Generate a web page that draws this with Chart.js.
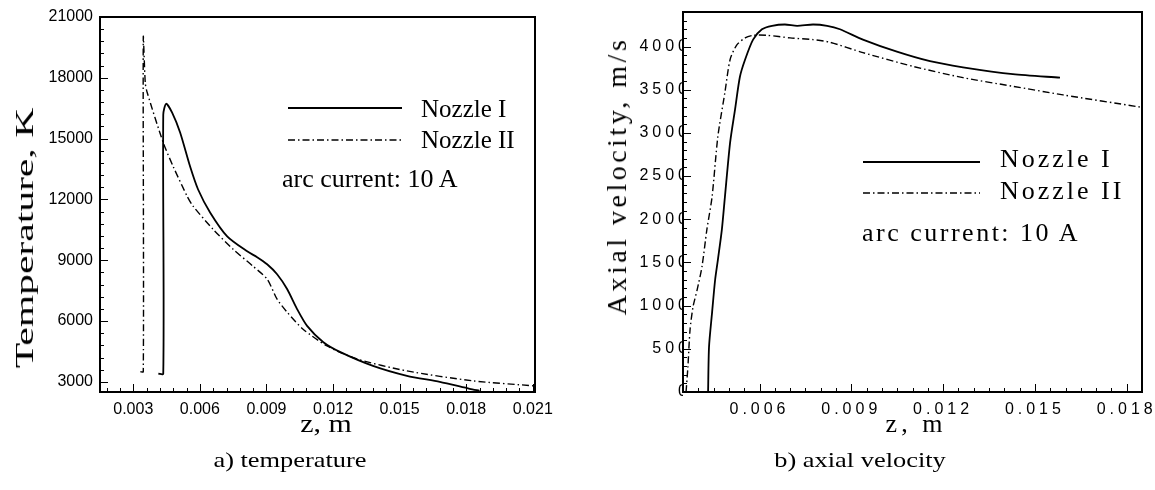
<!DOCTYPE html>
<html>
<head>
<meta charset="utf-8">
<script src="https://cdn.jsdelivr.net/npm/chart.js@4.4.1/dist/chart.umd.min.js"></script>
<style>
    html, body { margin: 0; padding: 0; background: #fff; }
    body { width: 1155px; height: 490px; position: relative; overflow: hidden; }
    canvas { position: absolute; top: 0; }
    .txt { position: absolute; white-space: nowrap; line-height: 1; color: #000;
           font-family: "Liberation Serif", "Times New Roman", serif; }
</style>
</head>
<body>
<canvas id="chartT" width="560" height="450" style="left:0px"></canvas>
<canvas id="chartV" width="585" height="450" style="left:570px"></canvas>
<script>
window.onload = Main;

const seriesNames = ["Nozzle I", "Nozzle II"];
const noteText = "arc current: 10 A";

// a) temperature
const zTemp1 = [0.00413, 0.00435, 0.00435, 0.00448, 0.00475, 0.00511, 0.00556, 0.00592, 0.00646, 0.00723,
                0.00813, 0.00858, 0.00903, 0.00948, 0.00993, 0.01038, 0.01083, 0.01155, 0.01231, 0.0138,
                0.01533, 0.01681, 0.01816, 0.0186];
const temp1  = [3400, 3400, 16180, 16720, 16280, 15300, 13620, 12490, 11360, 10180,
                9440, 9150, 8800, 8310, 7580, 6590, 5760, 4970, 4480, 3790,
                3300, 3000, 2660, 2560];
const zTemp2 = [0.00332, 0.00345, 0.00345, 0.00354, 0.00363, 0.00435, 0.0048, 0.00543, 0.0057, 0.0066,
                0.0075, 0.0084, 0.00903, 0.00948, 0.00993, 0.01065, 0.01173, 0.01308, 0.01533, 0.0183,
                0.0211];
const temp2  = [3500, 3500, 20000, 17750, 17260, 14800, 13620, 12150, 11660, 10520,
                9540, 8700, 8070, 7080, 6440, 5600, 4770, 4130, 3540, 3050,
                2800];

// b) axial velocity
const zVel1 = [0.00432, 0.00435, 0.00445, 0.00455, 0.00464, 0.00477, 0.00487, 0.00504, 0.0052, 0.00536,
               0.00553, 0.00579, 0.00608, 0.00641, 0.00683, 0.00723, 0.00775, 0.00821, 0.00863, 0.00938,
               0.01049, 0.01157, 0.01265, 0.01428, 0.01582];
const vel1  = [0, 520, 920, 1300, 1530, 1880, 2260, 2890, 3270, 3650,
               3850, 4080, 4200, 4240, 4255, 4240, 4255, 4240, 4200, 4080,
               3940, 3830, 3760, 3680, 3640];
const zVel2 = [0.0036, 0.00366, 0.00373, 0.00383, 0.00396, 0.00412, 0.00428, 0.00445, 0.00464, 0.00487,
               0.00504, 0.00526, 0.00553, 0.00579, 0.00625, 0.0070, 0.00775, 0.0083, 0.00938, 0.01102,
               0.01265, 0.01428, 0.01592, 0.01843];
const vel2  = [0, 290, 720, 990, 1180, 1450, 1880, 2260, 2960, 3470,
               3850, 4020, 4100, 4130, 4130, 4100, 4080, 4050, 3930, 3770,
               3640, 3540, 3440, 3300];

// tick labels
const zTicksTemp = [0.003, 0.006, 0.009, 0.012, 0.015, 0.018, 0.021];
const tempTicks  = [3000, 6000, 9000, 12000, 15000, 18000, 21000];
const zTicksVel  = [0.006, 0.009, 0.012, 0.015, 0.018];
const velTicks   = [0, 500, 1000, 1500, 2000, 2500, 3000, 3500, 4000];

const dashDot = [7, 3, 1.5, 3];

// inward tecplot-style ticks, frame and legend samples
const framePlugin = {
    id: "frame",
    beforeDraw(chart, args, opts) {
        chart.ctx.letterSpacing = opts.letterSpacing || "0px";
    },
    afterDraw(chart, args, opts) {
        const ctx = chart.ctx;
        const a = chart.chartArea;
        ctx.save();
        ctx.strokeStyle = "#000";
        ctx.lineWidth = 1;
        ctx.setLineDash([]);
        [["x", opts.xMinor], ["y", opts.yMinor]].forEach(([id, sub]) => {
            const s = chart.scales[id];
            const majors = s.ticks.map(t => t.value);
            const step = (majors[1] - majors[0]) / sub;
            const kMin = Math.ceil((s.min - majors[0]) / step - 1e-6);
            const kMax = Math.floor((s.max - majors[0]) / step + 1e-6);
            ctx.beginPath();
            for (let k = kMin; k <= kMax; k++) {
                const len = (k % sub === 0) ? 8 : 4;
                const p = Math.round(s.getPixelForValue(majors[0] + k * step)) + 0.5;
                if (id === "x") {
                    ctx.moveTo(p, a.bottom);
                    ctx.lineTo(p, a.bottom - len);
                } else {
                    ctx.moveTo(a.left, p);
                    ctx.lineTo(a.left + len, p);
                }
            }
            ctx.stroke();
        });
        ctx.lineWidth = 2;
        ctx.strokeRect(a.left, a.top, a.right - a.left, a.bottom - a.top);

        chart.data.datasets.forEach((ds, i) => {
            const smp = opts.samples[i];
            ctx.lineWidth = ds.borderWidth;
            ctx.setLineDash(ds.borderDash || []);
            ctx.beginPath();
            ctx.moveTo(smp.x1, smp.y);
            ctx.lineTo(smp.x2, smp.y);
            ctx.stroke();
        });
        ctx.restore();
    }
};

function makeChart(id, c) {
    const tickFont = { family: "'Liberation Sans', Arial, sans-serif", size: c.tickSize };
    return new Chart(document.getElementById(id), {
        type: "scatter",
        data: {
            datasets: c.series.map((s, i) => ({
                label: seriesNames[i],
                data: s.z.map((z, j) => ({ x: z, y: s.v[j] })),
                showLine: true,
                pointRadius: 0,
                borderColor: "#000",
                borderWidth: i ? 1.4 : 1.8,
                borderDash: i ? dashDot : [],
                tension: 0.25
            }))
        },
        options: {
            responsive: false,
            animation: false,
            events: [],
            layout: { padding: c.padding },
            plugins: {
                legend: { display: false },
                tooltip: { enabled: false },
                frame: { samples: c.samples, xMinor: c.xMinor, yMinor: c.yMinor, letterSpacing: c.spacing }
            },
            scales: {
                x: {
                    type: "linear", min: c.xMin, max: c.xMax,
                    grid: { display: false, drawTicks: false },
                    border: { display: false },
                    ticks: { font: tickFont, color: "#000", padding: 8, maxRotation: 0, autoSkip: false,
                             callback: v => v.toFixed(3) },
                    afterBuildTicks: s => { s.ticks = c.xTicks.map(v => ({ value: v })); },
                    afterFit: s => { s.height = c.xHeight; s.paddingLeft = 0; s.paddingRight = 0; }
                },
                y: {
                    type: "linear", min: c.yMin, max: c.yMax,
                    grid: { display: false, drawTicks: false },
                    border: { display: false },
                    ticks: { font: tickFont, color: "#000", padding: c.yPad, autoSkip: false,
                             callback: v => String(v) },
                    afterBuildTicks: s => { s.ticks = c.yTicks.map(v => ({ value: v })); },
                    afterFit: s => { s.width = c.yWidth; s.paddingTop = 0; s.paddingBottom = 0; }
                }
            }
        },
        plugins: [framePlugin]
    });
}

// text placed by baseline (or centre when rotated)
function addText(str, o) {
    const el = document.createElement("div");
    el.className = "txt";
    el.textContent = str;
    el.style.fontSize = o.size + "px";
    if (o.ls) el.style.letterSpacing = o.ls + "px";
    const sx = o.sx || 1;
    if (o.rot) {
        el.style.left = o.x + "px";
        el.style.top = o.y + "px";
        el.style.transform = "translate(-50%,-50%) rotate(" + o.rot + "deg) scaleX(" + sx + ")";
    } else {
        el.style.top = (o.y - 0.8375 * o.size) + "px";
        el.style.left = o.x + "px";
        if (o.center) {
            el.style.transform = "translateX(-50%) scaleX(" + sx + ")";
        } else {
            el.style.transformOrigin = "left center";
            el.style.transform = "scaleX(" + sx + ")";
        }
    }
    document.body.appendChild(el);
}

function Main() {
    makeChart("chartT", {
        series: [{ z: zTemp1, v: temp1 }, { z: zTemp2, v: temp2 }],
        xMin: 0.0015, xMax: 0.0211, yMin: 2500, yMax: 21000,
        xTicks: zTicksTemp, yTicks: tempTicks, xMinor: 5, yMinor: 5,
        padding: { top: 17, right: 25, left: 0, bottom: 0 },
        xHeight: 58, yWidth: 100, yPad: 7, tickSize: 16, spacing: "0px",
        samples: [{ x1: 288, x2: 402, y: 108 }, { x1: 288, x2: 402, y: 140 }]
    });
    makeChart("chartV", {
        series: [{ z: zVel1, v: vel1 }, { z: zVel2, v: vel2 }],
        xMin: 0.0035, xMax: 0.0185, yMin: 0, yMax: 4400,
        xTicks: zTicksVel, yTicks: velTicks, xMinor: 6, yMinor: 5,
        padding: { top: 12, right: 13, left: 0, bottom: 0 },
        xHeight: 58, yWidth: 113, yPad: -8, tickSize: 16, spacing: "4px",
        samples: [{ x1: 293, x2: 410, y: 162 }, { x1: 293, x2: 410, y: 193 }]
    });

    addText("Temperature, K", { x: 25, y: 238, size: 26, rot: -90, sx: 1.6 });
    addText("z, m", { x: 326, y: 433, size: 26, center: true, sx: 1.15 });
    addText(seriesNames[0], { x: 421, y: 117, size: 25 });
    addText(seriesNames[1], { x: 421, y: 148, size: 25 });
    addText(noteText, { x: 282, y: 188, size: 26 });
    addText("a) temperature", { x: 290, y: 467, size: 22, center: true, sx: 1.2 });

    addText("Axial velocity, m/s", { x: 617, y: 176, size: 28, rot: -90, ls: 3.5 });
    addText("z, m", { x: 916, y: 433, size: 26, center: true, ls: 4 });
    addText(seriesNames[0], { x: 1000, y: 168, size: 26, ls: 3 });
    addText(seriesNames[1], { x: 1000, y: 200, size: 26, ls: 3 });
    addText(noteText, { x: 862, y: 242, size: 26, ls: 2.5 });
    addText("b) axial velocity", { x: 860, y: 467, size: 22, center: true, sx: 1.2 });
}
</script>
</body>
</html>
